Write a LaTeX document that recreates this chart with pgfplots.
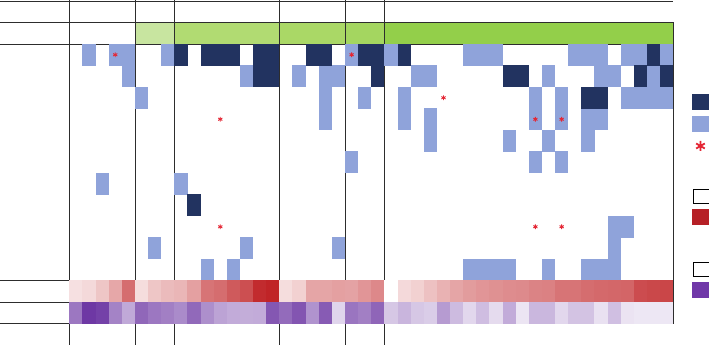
\documentclass[border=0pt]{standalone}
\usepackage{pgfplots}
\pgfplotsset{compat=1.18}
\definecolor{navy}{RGB}{34,51,96}
\definecolor{lblue}{RGB}{143,163,218}
\definecolor{ast}{RGB}{228,38,52}
\definecolor{gA}{RGB}{200,229,160}
\definecolor{gB}{RGB}{177,219,114}
\definecolor{gC}{RGB}{170,216,102}
\definecolor{gD}{RGB}{164,214,96}
\definecolor{gE}{RGB}{147,207,74}
\definecolor{lred}{RGB}{182,32,38}
\definecolor{lpur}{RGB}{112,56,168}
\definecolor{gridc}{RGB}{45,45,45}
\pgfdeclareplotmark{cell}{\pgfpathrectangle{\pgfpoint{-6.62pt}{-10.8pt}}{\pgfpoint{13.24pt}{21.6pt}}\pgfusepathqfill}
\pgfplotsset{
  colormap={reds}{rgb255(0cm)=(255,255,255); rgb255(1cm)=(192,36,39)},
  colormap={purples}{rgb255(0cm)=(255,255,255); rgb255(1cm)=(110,56,164)},
}
\begin{document}
\begin{tikzpicture}
\begin{axis}[
  x=13.13pt, y=21.5pt,
  xmin=-5.278, xmax=48.72, ymin=-0.0465, ymax=16.0,
  y dir=reverse, hide axis, clip=true, clip bounding box=upper bound,
  point meta min=0, point meta max=1,
]
% green header bar
\addplot[fill=gA, draw=none] coordinates {(5,1) (8,1) (8,2) (5,2)};
\addplot[fill=gB, draw=none] coordinates {(8,1) (16,1) (16,2) (8,2)};
\addplot[fill=gC, draw=none] coordinates {(16,1) (21,1) (21,2) (16,2)};
\addplot[fill=gD, draw=none] coordinates {(21,1) (24,1) (24,2) (21,2)};
\addplot[fill=gE, draw=none] coordinates {(24,1) (46,1) (46,2) (24,2)};
% light blue cells
\addplot[only marks, mark=cell, color=lblue] table {
x y
1.5 2.5
3.5 2.5
4.5 2.5
7.5 2.5
21.5 2.5
24.5 2.5
30.5 2.5
31.5 2.5
32.5 2.5
38.5 2.5
39.5 2.5
40.5 2.5
42.5 2.5
43.5 2.5
45.5 2.5
4.5 3.5
13.5 3.5
17.5 3.5
19.5 3.5
20.5 3.5
26.5 3.5
27.5 3.5
36.5 3.5
40.5 3.5
41.5 3.5
44.5 3.5
5.5 4.5
19.5 4.5
22.5 4.5
25.5 4.5
35.5 4.5
37.5 4.5
42.5 4.5
43.5 4.5
44.5 4.5
45.5 4.5
19.5 5.5
25.5 5.5
27.5 5.5
35.5 5.5
37.5 5.5
39.5 5.5
40.5 5.5
27.5 6.5
33.5 6.5
36.5 6.5
39.5 6.5
21.5 7.5
35.5 7.5
37.5 7.5
2.5 8.5
8.5 8.5
41.5 10.5
42.5 10.5
6.5 11.5
13.5 11.5
20.5 11.5
41.5 11.5
10.5 12.5
12.5 12.5
30.5 12.5
31.5 12.5
32.5 12.5
33.5 12.5
36.5 12.5
39.5 12.5
40.5 12.5
41.5 12.5
};
% navy cells
\addplot[only marks, mark=cell, color=navy] table {
x y
8.5 2.5
10.5 2.5
11.5 2.5
12.5 2.5
14.5 2.5
15.5 2.5
18.5 2.5
19.5 2.5
22.5 2.5
23.5 2.5
25.5 2.5
44.5 2.5
14.5 3.5
15.5 3.5
23.5 3.5
33.5 3.5
34.5 3.5
43.5 3.5
45.5 3.5
39.5 4.5
40.5 4.5
9.5 9.5
};
% asterisks
\addplot[only marks, mark=asterisk, mark size=2.4pt, color=ast, line width=0.9pt] table {
x y
3.5 2.5
21.5 2.5
28.5 4.5
11.5 5.5
35.5 5.5
37.5 5.5
11.5 10.5
35.5 10.5
37.5 10.5
};
% red heat row
\addplot[scatter, only marks, mark=cell, point meta=explicit, colormap name=reds] table[x=x, y=y, meta=v] {
x y v
0.5 13.5 0.14
1.5 13.5 0.17
2.5 13.5 0.26
3.5 13.5 0.40
4.5 13.5 0.66
5.5 13.5 0.155
6.5 13.5 0.26
7.5 13.5 0.31
8.5 13.5 0.33
9.5 13.5 0.43
10.5 13.5 0.63
11.5 13.5 0.66
12.5 13.5 0.75
13.5 13.5 0.80
14.5 13.5 0.96
15.5 13.5 1.0
16.5 13.5 0.155
17.5 13.5 0.21
18.5 13.5 0.41
19.5 13.5 0.41
20.5 13.5 0.43
21.5 13.5 0.42
22.5 13.5 0.48
23.5 13.5 0.54
24.5 13.5 0.0
25.5 13.5 0.17
26.5 13.5 0.21
27.5 13.5 0.28
28.5 13.5 0.35
29.5 13.5 0.41
30.5 13.5 0.45
31.5 13.5 0.48
32.5 13.5 0.50
33.5 13.5 0.52
34.5 13.5 0.53
35.5 13.5 0.56
36.5 13.5 0.57
37.5 13.5 0.63
38.5 13.5 0.63
39.5 13.5 0.66
40.5 13.5 0.68
41.5 13.5 0.69
42.5 13.5 0.70
43.5 13.5 0.81
44.5 13.5 0.83
45.5 13.5 0.84
};
% purple heat row
\addplot[scatter, only marks, mark=cell, point meta=explicit, colormap name=purples] table[x=x, y=y, meta=v] {
x y v
0.5 14.5 0.68
1.5 14.5 1.0
2.5 14.5 0.95
3.5 14.5 0.62
4.5 14.5 0.43
5.5 14.5 0.76
6.5 14.5 0.68
7.5 14.5 0.64
8.5 14.5 0.58
9.5 14.5 0.75
10.5 14.5 0.56
11.5 14.5 0.46
12.5 14.5 0.42
13.5 14.5 0.41
14.5 14.5 0.42
15.5 14.5 0.84
16.5 14.5 0.74
17.5 14.5 0.85
18.5 14.5 0.54
19.5 14.5 0.82
20.5 14.5 0.21
21.5 14.5 0.69
22.5 14.5 0.64
23.5 14.5 0.77
24.5 14.5 0.28
25.5 14.5 0.37
26.5 14.5 0.28
27.5 14.5 0.25
28.5 14.5 0.50
29.5 14.5 0.34
30.5 14.5 0.20
31.5 14.5 0.33
32.5 14.5 0.18
33.5 14.5 0.42
34.5 14.5 0.13
35.5 14.5 0.36
36.5 14.5 0.36
37.5 14.5 0.20
38.5 14.5 0.30
39.5 14.5 0.30
40.5 14.5 0.15
41.5 14.5 0.32
42.5 14.5 0.14
43.5 14.5 0.12
44.5 14.5 0.12
45.5 14.5 0.12
};
% grid lines
\pgfplotsset{every axis plot/.append style={}}
\addplot[gridc, line width=0.9pt, no marks] coordinates {(-5.278,0) (46,0)};
\addplot[gridc, line width=0.9pt, no marks] coordinates {(-5.278,1) (46,1)};
\addplot[gridc, line width=0.9pt, no marks] coordinates {(-5.278,2) (46,2)};
\addplot[gridc, line width=0.9pt, no marks] coordinates {(-5.278,13) (46,13)};
\addplot[gridc, line width=0.9pt, no marks] coordinates {(-5.278,14) (46,14)};
\addplot[gridc, line width=0.9pt, no marks] coordinates {(-5.278,15) (46,15)};
\addplot[gridc, line width=0.9pt, no marks] coordinates {(0,-0.0465) (0,16)};
\addplot[gridc, line width=0.9pt, no marks] coordinates {(5,-0.0465) (5,16)};
\addplot[gridc, line width=0.9pt, no marks] coordinates {(8,-0.0465) (8,16)};
\addplot[gridc, line width=0.9pt, no marks] coordinates {(16,-0.0465) (16,16)};
\addplot[gridc, line width=0.9pt, no marks] coordinates {(21,-0.0465) (21,16)};
\addplot[gridc, line width=0.9pt, no marks] coordinates {(24,-0.0465) (24,16)};
\addplot[gridc, line width=0.9pt, no marks] coordinates {(46,1) (46,15)};
% legend keys (cut by the right edge)
\addplot[fill=navy, draw=none] coordinates {(47.46,4.326) (48.72,4.326) (48.72,5.07) (47.46,5.07)};
\addplot[fill=lblue, draw=none] coordinates {(47.46,5.349) (48.72,5.349) (48.72,6.079) (47.46,6.079)};
\addplot[only marks, mark=asterisk, mark size=5pt, color=ast, line width=1.8pt] coordinates {(48.07,6.744)};
\addplot[fill=white, draw=black, line width=1.3pt] coordinates {(47.52,8.77) (48.9,8.77) (48.9,9.42) (47.52,9.42) (47.52,8.77)};
\addplot[fill=lred, draw=none] coordinates {(47.46,9.688) (48.72,9.688) (48.72,10.419) (47.46,10.419)};
\addplot[fill=white, draw=black, line width=1.3pt] coordinates {(47.52,12.15) (48.9,12.15) (48.9,12.80) (47.52,12.80) (47.52,12.15)};
\addplot[fill=lpur, draw=none] coordinates {(47.46,13.084) (48.72,13.084) (48.72,13.814) (47.46,13.814)};
\end{axis}
\end{tikzpicture}
\end{document}
